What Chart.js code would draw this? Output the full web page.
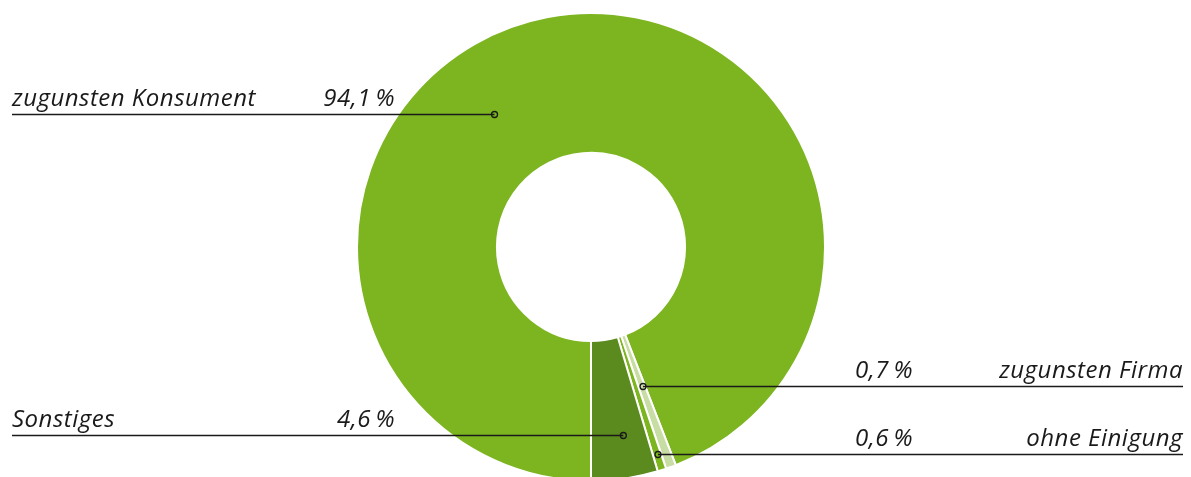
<!DOCTYPE html>
<html>
<head>
<meta charset="utf-8">
<script src="https://cdn.jsdelivr.net/npm/chart.js@4.4.1/dist/chart.umd.min.js"></script>
<style>
  html, body { margin: 0; padding: 0; background: #fff; overflow: hidden; }
  #wrap { position: relative; width: 1191px; height: 477px; }
</style>
</head>
<body>
<div id="wrap"><canvas id="pieChart"></canvas></div>
<script>
// Werte (Prozent), Reihenfolge im Uhrzeigersinn ab 6 Uhr
var labels = ["zugunsten Konsument", "zugunsten Firma", "ohne Einigung", "Sonstiges"];
var values = [94.1, 0.7, 0.6, 4.6];
var colors = ["#7cb51f", "#c8dda3", "#7cb51f", "#5b8a1e"];

// Beschriftung: Seite, Lage des Ankerpunkts im Segment (Winkelanteil, Radiusanteil)
var callouts = [
    {index: 0, side: "left",  f: 0.425, g: 0.50},
    {index: 1, side: "right", f: 0.30,  g: 0.39},
    {index: 2, side: "right", f: 0.35,  g: 0.88},
    {index: 3, side: "left",  f: 0.41,  g: 0.69}
];

function fmt(v) {
    return v.toFixed(1).replace(".", ",") + "\u2009%";
}

var calloutPlugin = {
    id: "callouts",
    afterDatasetsDraw: function (chart) {
        var ctx = chart.ctx;
        var arcs = chart.getDatasetMeta(0).data;
        var w = chart.width;
        ctx.save();
        ctx.font = "italic 24px 'Open Sans'";
        if ("letterSpacing" in ctx) ctx.letterSpacing = "0.5px";
        ctx.fillStyle = "#1a1a1a";
        ctx.strokeStyle = "#1a1a1a";
        ctx.lineWidth = 1.3;
        callouts.forEach(function (c) {
            var arc = arcs[c.index];
            var p = arc.getProps(["x", "y", "startAngle", "endAngle", "innerRadius", "outerRadius"], true);
            var a = p.startAngle + c.f * (p.endAngle - p.startAngle);
            var r = p.innerRadius + c.g * (p.outerRadius - p.innerRadius);
            var ax = p.x + r * Math.cos(a);
            var ay = Math.round(p.y + r * Math.sin(a)) + 0.5;
            var edge = c.side === "left" ? 12 : w - 8;
            ctx.beginPath();
            ctx.moveTo(edge, ay);
            ctx.lineTo(ax, ay);
            ctx.stroke();
            ctx.beginPath();
            ctx.arc(ax, ay, 3, 0, Math.PI * 2);
            ctx.stroke();
            ctx.textBaseline = "alphabetic";
            var by = ay - 9;
            if (c.side === "left") {
                ctx.textAlign = "left";
                ctx.fillText(labels[c.index], 12, by);
                ctx.textAlign = "right";
                ctx.fillText(fmt(values[c.index]), 395, by);
            } else {
                ctx.textAlign = "left";
                ctx.fillText(fmt(values[c.index]), 855, by);
                ctx.textAlign = "right";
                ctx.fillText(labels[c.index], w - 8, by);
            }
        });
        ctx.restore();
    }
};

new Chart(document.getElementById("pieChart").getContext("2d"), {
    type: "doughnut",
    data: {
        labels: labels,
        datasets: [{
            data: values,
            backgroundColor: colors,
            borderColor: "#ffffff",
            borderWidth: 2,
            hoverOffset: 0
        }]
    },
    options: {
        responsive: true,
        maintainAspectRatio: false,
        animation: false,
        rotation: 180,
        radius: 234,
        cutout: "40.2%",
        layout: { padding: { top: 17, bottom: 0, left: 0, right: 9 } },
        plugins: {
            legend: { display: false },
            tooltip: { enabled: false }
        }
    },
    plugins: [calloutPlugin]
});
</script>
</body>
</html>
